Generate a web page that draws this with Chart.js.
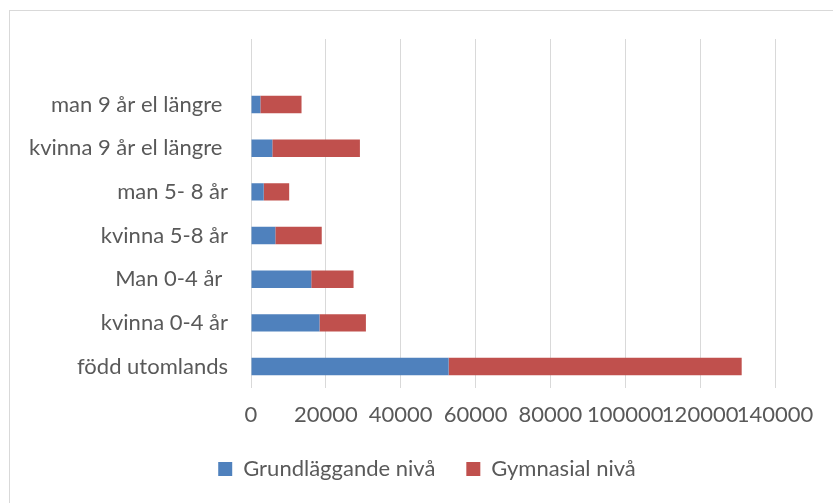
<!DOCTYPE html>
<html>
<head>
<meta charset="utf-8">
<script src="https://cdn.jsdelivr.net/npm/chart.js@4.4.1/dist/chart.umd.min.js"></script>
<style>
html, body { margin: 0; padding: 0; background: #fff; overflow: hidden; }
#frame { position: absolute; left: 9px; top: 10px; width: 900px; height: 600px; border: 1px solid #d9d9d9; }
#wrap { position: absolute; left: 0; top: 0; width: 833px; height: 503px; }
</style>
</head>
<body>
<div id="frame"></div>
<div id="wrap"><canvas id="eduChart"></canvas></div>
<script>
// categories top to bottom, first row is the empty one Excel left in the data
var categories = ['', 'man 9 år el längre ', 'kvinna 9 år el längre ', 'man 5- 8 år', 'kvinna 5-8 år', 'Man 0-4 år ', 'kvinna 0-4 år', 'född utomlands'];
var grundlaggande = [null, 2500, 5700, 3400, 6500, 16100, 18300, 52800];
var gymnasial = [null, 11000, 23400, 6800, 12400, 11300, 12400, 78300];
var xTicks = [0, 20000, 40000, 60000, 80000, 100000, 120000, 140000];

var textColor = '#595959';
var font = { family: 'Lato', size: 22 };

var ctx = document.getElementById('eduChart');
var chart = new Chart(ctx, {
	type: 'bar',
	data: {
		labels: categories,
		datasets: [{
			label: 'Grundläggande nivå',
			data: grundlaggande,
			backgroundColor: '#4f81bd',
			borderWidth: 0
		}, {
			label: 'Gymnasial nivå',
			data: gymnasial,
			backgroundColor: '#c0504d',
			borderWidth: 0
		}]
	},
	options: {
		indexAxis: 'y',
		responsive: true,
		maintainAspectRatio: false,
		animation: false,
		datasets: {
			bar: { categoryPercentage: 1, barPercentage: 0.4 }
		},
		layout: {
			padding: { left: 30, right: 9, top: 39, bottom: 13 }
		},
		plugins: {
			legend: {
				position: 'bottom',
				maxHeight: 70,
				labels: {
					boxWidth: 14,
					boxHeight: 14,
					padding: 31,
					color: textColor,
					font: font
				}
			},
			tooltip: { enabled: false }
		},
		scales: {
			x: {
				stacked: true,
				min: xTicks[0],
				max: xTicks[xTicks.length - 1],
				afterBuildTicks: function (scale) {
					scale.ticks = xTicks.map(function (v) { return { value: v }; });
				},
				afterFit: function (scale) { scale.height = 38.6; },
				grid: { color: '#d9d9d9', drawTicks: false },
				border: { display: false },
				ticks: {
					padding: 16,
					color: textColor,
					font: { family: 'Lato', size: 22, lineHeight: 1 },
					maxRotation: 0,
					autoSkip: false,
					callback: function (v) { return String(v); }
				}
			},
			y: {
				stacked: true,
				grid: { display: false },
				border: { display: false },
				afterFit: function (scale) { scale.width = 221; },
				ticks: {
					padding: 15,
					color: textColor,
					font: font,
					autoSkip: false
				}
			},
			// empty box on the right, keeps the plot end at 140000 like the original
			yRight: {
				axis: 'y',
				type: 'linear',
				position: 'right',
				grid: { display: false },
				border: { display: false },
				ticks: { display: false },
				afterFit: function (scale) { scale.width = 49; }
			}
		}
	}
});
</script>
</body>
</html>
